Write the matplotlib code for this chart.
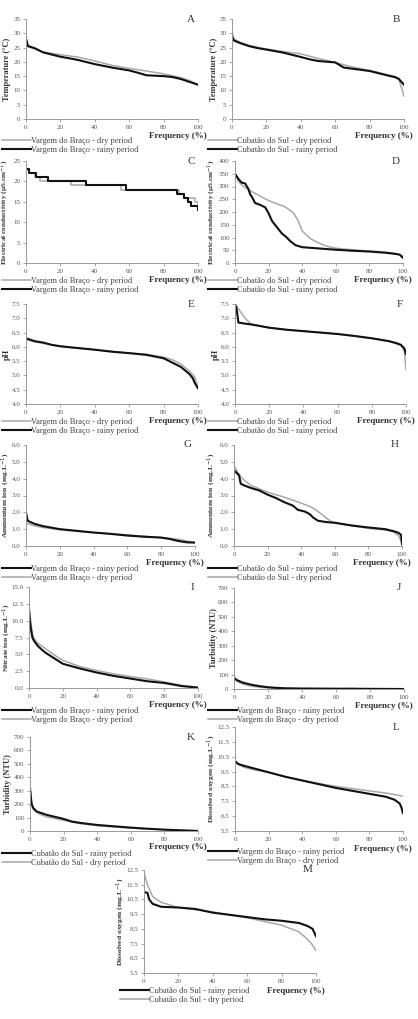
import matplotlib.pyplot as plt
import numpy as np

plt.rcParams['font.family'] = ['Liberation Serif', 'DejaVu Serif']

W, H = 418, 1019
GREY = '#a8a8a8'
BLACK = '#111111'

# ---- data (frequency %, value) ----
tempVB_dry_x = [0, 1, 5, 10, 20, 30, 40, 50, 60, 70, 80, 90, 95, 100]
tempVB_dry_y = [29, 26, 24.5, 23.5, 22.5, 21.7, 20.3, 18.8, 17.7, 16.8, 15.8, 14.5, 13.5, 12]
tempVB_rain_x = [0, 0.5, 1, 5, 10, 20, 30, 40, 50, 60, 65, 70, 80, 85, 90, 95, 100]
tempVB_rain_y = [28, 27, 25.5, 24.8, 23.3, 21.8, 20.7, 19.2, 18, 17, 16.2, 15.3, 15, 14.7, 14, 13, 12]

tempCS_dry_x = [0, 1, 5, 10, 20, 30, 40, 50, 60, 70, 80, 90, 95, 97, 98, 100]
tempCS_dry_y = [31, 28, 26.8, 25.7, 24.5, 23.6, 22.8, 21.2, 19.8, 18.2, 17, 15.6, 14.8, 14, 12, 8]
tempCS_rain_x = [0, 1, 5, 10, 15, 20, 30, 40, 45, 50, 60, 65, 70, 80, 90, 95, 97, 100]
tempCS_rain_y = [29, 27.5, 26.5, 25.5, 24.8, 24.3, 23.2, 21.7, 20.9, 20.3, 19.8, 18, 17.6, 16.8, 15.3, 14.6, 14, 12]

ecVB_dry_x = [0, 2, 5, 8, 26, 55, 89, 92, 98, 100]
ecVB_dry_y = [23, 22, 21, 20, 19, 18, 17, 16, 15, 13]
ecVB_rain_x = [0, 2, 6, 13, 35, 58, 88, 92, 94, 96, 100]
ecVB_rain_y = [23, 22, 21, 20, 19, 18, 17, 16, 15, 14, 13]

ecCS_dry_x = [0, 2, 5, 10, 15, 20, 25, 30, 35, 38, 40, 45, 50, 55, 60, 70, 80, 90, 95, 100]
ecCS_dry_y = [350, 320, 300, 280, 262, 245, 232, 220, 195, 160, 125, 95, 78, 65, 58, 52, 47, 42, 38, 28]
ecCS_rain_x = [0, 2, 4, 6, 8, 9, 10, 12, 15, 18, 20, 22, 25, 28, 30, 33, 36, 40, 50, 60, 70, 80, 90, 95, 98, 100]
ecCS_rain_y = [350, 330, 315, 312, 290, 270, 260, 235, 228, 218, 195, 165, 140, 115, 105, 85, 70, 62, 57, 52, 48, 45, 40, 36, 33, 20]

phVB_dry_x = [0, 5, 10, 20, 30, 40, 50, 60, 70, 80, 85, 90, 95, 98, 100]
phVB_dry_y = [6.25, 6.18, 6.12, 6.02, 5.95, 5.9, 5.84, 5.78, 5.74, 5.64, 5.55, 5.4, 5.15, 4.95, 4.6]
phVB_rain_x = [0, 5, 10, 15, 20, 30, 40, 50, 60, 70, 80, 85, 90, 95, 97, 98, 100]
phVB_rain_y = [6.3, 6.2, 6.15, 6.07, 6.02, 5.96, 5.9, 5.83, 5.78, 5.72, 5.6, 5.45, 5.3, 5.05, 4.9, 4.75, 4.55]

phCS_dry_x = [0, 3, 6, 9, 10, 20, 30, 40, 50, 60, 70, 80, 90, 97, 99, 100]
phCS_dry_y = [7.5, 7.25, 7.0, 6.82, 6.78, 6.67, 6.6, 6.55, 6.5, 6.45, 6.38, 6.3, 6.2, 6.05, 5.85, 5.2]
phCS_rain_x = [0, 1, 2, 5, 10, 20, 30, 40, 50, 60, 70, 80, 90, 95, 97, 99, 100]
phCS_rain_y = [7.5, 7.3, 6.85, 6.82, 6.78, 6.67, 6.6, 6.55, 6.5, 6.45, 6.38, 6.3, 6.2, 6.12, 6.07, 5.95, 5.75]

nhVB_rain_x = [0, 1, 2, 5, 10, 20, 30, 40, 50, 60, 70, 80, 85, 90, 95, 100]
nhVB_rain_y = [2.0, 1.5, 1.45, 1.32, 1.18, 1.0, 0.9, 0.8, 0.72, 0.62, 0.55, 0.5, 0.42, 0.3, 0.22, 0.2]
nhVB_dry_x = [0, 2, 5, 10, 20, 30, 40, 50, 60, 70, 80, 90, 95, 100]
nhVB_dry_y = [1.35, 1.3, 1.2, 1.1, 0.97, 0.88, 0.8, 0.73, 0.66, 0.58, 0.5, 0.4, 0.3, 0.2]

nhCS_rain_x = [0, 2, 3, 4, 6, 10, 15, 20, 25, 30, 35, 38, 42, 45, 47, 50, 55, 60, 70, 80, 90, 95, 98, 99.5, 100]
nhCS_rain_y = [4.5, 4.3, 4.2, 3.7, 3.6, 3.45, 3.3, 3.05, 2.85, 2.6, 2.4, 2.15, 2.05, 1.9, 1.7, 1.5, 1.42, 1.38, 1.22, 1.1, 1.0, 0.88, 0.78, 0.65, 0.1]
nhCS_dry_x = [0, 2, 5, 10, 20, 30, 40, 45, 48, 52, 55, 58, 60, 70, 80, 90, 95, 98, 100]
nhCS_dry_y = [4.8, 4.4, 4.0, 3.6, 3.2, 2.9, 2.55, 2.35, 2.2, 1.9, 1.65, 1.45, 1.38, 1.2, 1.05, 0.95, 0.85, 0.6, 0.2]

no3VB_rain_x = [0, 0.5, 1, 2, 3, 5, 8, 10, 15, 20, 30, 40, 50, 60, 70, 80, 90, 100]
no3VB_rain_y = [11.5, 10, 9, 7.5, 7.0, 6.3, 5.6, 5.2, 4.4, 3.6, 2.9, 2.3, 1.8, 1.4, 1.0, 0.75, 0.3, 0.05]
no3VB_dry_x = [0, 1, 2, 3, 5, 10, 15, 20, 30, 40, 50, 60, 70, 80, 90, 100]
no3VB_dry_y = [12.5, 10, 8, 7.3, 6.7, 5.8, 4.9, 4.1, 3.2, 2.6, 2.1, 1.7, 1.35, 0.9, 0.4, 0.1]

turbVB_rain_x = [0, 2, 5, 10, 15, 20, 25, 30, 40, 60, 80, 100]
turbVB_rain_y = [75, 60, 45, 30, 20, 12, 8, 5, 3, 2, 1, 0]
turbVB_dry_x = [0, 1, 3, 5, 10, 15, 20, 30, 40, 60, 70, 75, 100]
turbVB_dry_y = [100, 60, 45, 35, 20, 12, 8, 4, 3, 2, 4, 2, 0]

turbCS_rain_x = [0, 0.5, 1, 2, 4, 10, 20, 25, 30, 40, 50, 60, 70, 80, 90, 100]
turbCS_rain_y = [320, 250, 200, 170, 145, 120, 90, 70, 60, 45, 35, 25, 17, 10, 5, 0]
turbCS_dry_x = [0, 1, 2, 5, 10, 20, 30, 40, 50, 60, 70, 80, 90, 100]
turbCS_dry_y = [350, 200, 160, 130, 105, 80, 55, 40, 30, 22, 15, 10, 6, 2]

doVB_rain_x = [0, 2, 5, 10, 15, 20, 30, 40, 50, 60, 70, 80, 90, 95, 98, 99, 100]
doVB_rain_y = [10.2, 10.0, 9.9, 9.75, 9.6, 9.45, 9.15, 8.9, 8.65, 8.4, 8.2, 8.0, 7.8, 7.6, 7.35, 7.1, 6.7]
doVB_dry_x = [0, 5, 10, 20, 30, 40, 50, 60, 70, 80, 90, 100]
doVB_dry_y = [10.2, 9.8, 9.65, 9.45, 9.15, 8.9, 8.7, 8.5, 8.35, 8.2, 8.05, 7.85]

doCS_rain_x = [0, 2, 3, 5, 10, 20, 30, 40, 50, 60, 70, 80, 90, 95, 98, 100]
doCS_rain_y = [11.0, 10.95, 10.5, 10.2, 10.0, 9.95, 9.85, 9.6, 9.45, 9.3, 9.15, 9.05, 8.9, 8.7, 8.5, 8.0]
doCS_dry_x = [0, 2, 5, 10, 20, 30, 40, 50, 60, 70, 80, 90, 95, 98, 100]
doCS_dry_y = [12.3, 11.5, 10.7, 10.3, 9.95, 9.8, 9.65, 9.45, 9.25, 9.0, 8.75, 8.3, 7.8, 7.4, 7.0]

VB = 'Vargem do Braço'
CS = 'Cubatão do Sul'
lbl_temp = 'Temperature (°C)'
lbl_ec = 'Electrical conductivity (µS.cm$^{-1}$)'
lbl_ph = 'pH'
lbl_nh = 'Ammonium ion  (mg.L$^{-1}$)'
lbl_no3 = 'Nitrate ion (mg.L$^{-1}$)'
lbl_turb = 'Turbidity (NTU)'
lbl_do = 'Dissolved oxygen (mg.L$^{-1}$)'
label_size = {lbl_temp: 6, lbl_ec: 5.2, lbl_ph: 6, lbl_nh: 5.4, lbl_no3: 5.4,
              lbl_turb: 6, lbl_do: 5.4}


def make_ax(x0, x1, ytop, ybot):
    return fig.add_axes([x0 / W, 1 - ybot / H, (x1 - x0) / W, (ybot - ytop) / H])


def panel(box, letter, site, dry, rain, ylim, yticks, fmt, ylabel, dry_first, steps, labx):
    ax = make_ax(*box)
    ds = 'steps-post' if steps else 'default'
    ldry, = ax.plot(dry[0], dry[1], color=GREY, lw=1.1, drawstyle=ds,
                    label=site + ' - dry period')
    lrain, = ax.plot(rain[0], rain[1], color=BLACK, lw=1.5, drawstyle=ds,
                     label=site + ' - rainy period')
    ax.set_xlim(0, 100)
    ax.set_ylim(*ylim)
    ax.set_xticks(range(0, 101, 20))
    ax.set_yticks(yticks)
    ax.set_yticklabels([fmt.format(t) for t in yticks])
    for s in ['top', 'right']:
        ax.spines[s].set_visible(False)
    for s in ['left', 'bottom']:
        ax.spines[s].set_color('#999999')
        ax.spines[s].set_linewidth(0.7)
    ax.tick_params(labelsize=5, colors='#999999', labelcolor='#555555', length=2, width=0.6, pad=2)
    ax.set_ylabel(ylabel, fontsize=label_size[ylabel], fontweight='bold', color='#333333')
    # label anchor is its right edge (rotated text, bottom anchored)
    ax.yaxis.set_label_coords(labx / W, 1 - (box[2] + box[3]) / 2 / H, transform=fig.transFigure)
    ax.text(1.05, -0.17, 'Frequency (%)', transform=ax.transAxes, ha='right', va='center',
            fontsize=6.5, fontweight='bold', color='#333333')
    ax.text(0.98, 1.0, letter, transform=ax.transAxes, ha='right', va='center',
            fontsize=8, color='#333333')
    order = [ldry, lrain] if dry_first else [lrain, ldry]
    return ax, order


def legend_at(ax, order, xpx, ypx):
    leg = ax.legend(handles=order, loc='upper left', frameon=False, fontsize=6,
                    bbox_to_anchor=(xpx / W, 1 - ypx / H),
                    bbox_transform=fig.transFigure, handlelength=3.5,
                    handletextpad=0.0, borderpad=0, borderaxespad=0, labelspacing=0.15)
    for t in leg.get_texts():
        t.set_color('#444444')


fig = plt.figure(figsize=(W / 100, H / 100), dpi=100)

specs = [
    ((26, 198, 19, 119), 'A', VB, (tempVB_dry_x, tempVB_dry_y), (tempVB_rain_x, tempVB_rain_y),
     (0, 35), range(0, 36, 5), '{:d}', lbl_temp, True, False, (2, 137), 11),
    ((232, 404, 19, 119), 'B', CS, (tempCS_dry_x, tempCS_dry_y), (tempCS_rain_x, tempCS_rain_y),
     (0, 35), range(0, 36, 5), '{:d}', lbl_temp, True, False, (208, 137), 218),
    ((26, 198, 161, 263), 'C', VB, (ecVB_dry_x, ecVB_dry_y), (ecVB_rain_x, ecVB_rain_y),
     (0, 25), range(0, 26, 5), '{:d}', lbl_ec, True, True, (2, 277), 11),
    ((235, 403, 161, 263), 'D', CS, (ecCS_dry_x, ecCS_dry_y), (ecCS_rain_x, ecCS_rain_y),
     (0, 400), range(0, 401, 50), '{:d}', lbl_ec, True, False, (208, 277), 218),
    ((26, 198, 304, 404), 'E', VB, (phVB_dry_x, phVB_dry_y), (phVB_rain_x, phVB_rain_y),
     (4.0, 7.5), np.arange(4.0, 7.51, 0.5), '{:.1f}', lbl_ph, True, False, (2, 418), 11),
    ((235, 406, 304, 404), 'F', CS, (phCS_dry_x, phCS_dry_y), (phCS_rain_x, phCS_rain_y),
     (4.0, 7.5), np.arange(4.0, 7.51, 0.5), '{:.1f}', lbl_ph, True, False, (208, 418), 220),
    ((26, 195, 445, 546), 'G', VB, (nhVB_dry_x, nhVB_dry_y), (nhVB_rain_x, nhVB_rain_y),
     (0, 6), np.arange(0, 6.01, 1.0), '{:.1f}', lbl_nh, False, False, (2, 565), 12),
    ((234, 402, 445, 546), 'H', CS, (nhCS_dry_x, nhCS_dry_y), (nhCS_rain_x, nhCS_rain_y),
     (0, 6), np.arange(0, 6.01, 1.0), '{:.1f}', lbl_nh, False, False, (208, 565), 218),
    ((29, 198, 587, 688), 'I', VB, (no3VB_dry_x, no3VB_dry_y), (no3VB_rain_x, no3VB_rain_y),
     (0, 15), np.arange(0, 15.01, 2.5), '{:.1f}', lbl_no3, False, False, (2, 707), 13),
    ((234, 404, 588, 689), 'J', VB, (turbVB_dry_x, turbVB_dry_y), (turbVB_rain_x, turbVB_rain_y),
     (0, 700), range(0, 701, 100), '{:d}', lbl_turb, False, False, (208, 707), 218),
    ((30, 198, 737, 831), 'K', CS, (turbCS_dry_x, turbCS_dry_y), (turbCS_rain_x, turbCS_rain_y),
     (0, 700), range(0, 701, 100), '{:d}', lbl_turb, False, False, (2, 850), 12),
    ((235, 403, 727, 831), 'L', VB, (doVB_dry_x, doVB_dry_y), (doVB_rain_x, doVB_rain_y),
     (5.5, 12.5), np.arange(5.5, 12.51, 1.0), '{:.1f}', lbl_do, False, False, (208, 848), 218),
    ((144, 316, 870, 973), 'M', CS, (doCS_dry_x, doCS_dry_y), (doCS_rain_x, doCS_rain_y),
     (5.5, 12.5), np.arange(5.5, 12.51, 1.0), '{:.1f}', lbl_do, False, False, (120, 987), 127),
]

for (box, letter, site, dry, rain, ylim, yticks, fmt, ylabel, dfirst, steps, legpos, labx) in specs:
    ax, order = panel(box, letter, site, dry, rain, ylim, list(yticks), fmt, ylabel, dfirst, steps, labx)
    legend_at(ax, order, *legpos)

fig.savefig('out.png', dpi=100)
